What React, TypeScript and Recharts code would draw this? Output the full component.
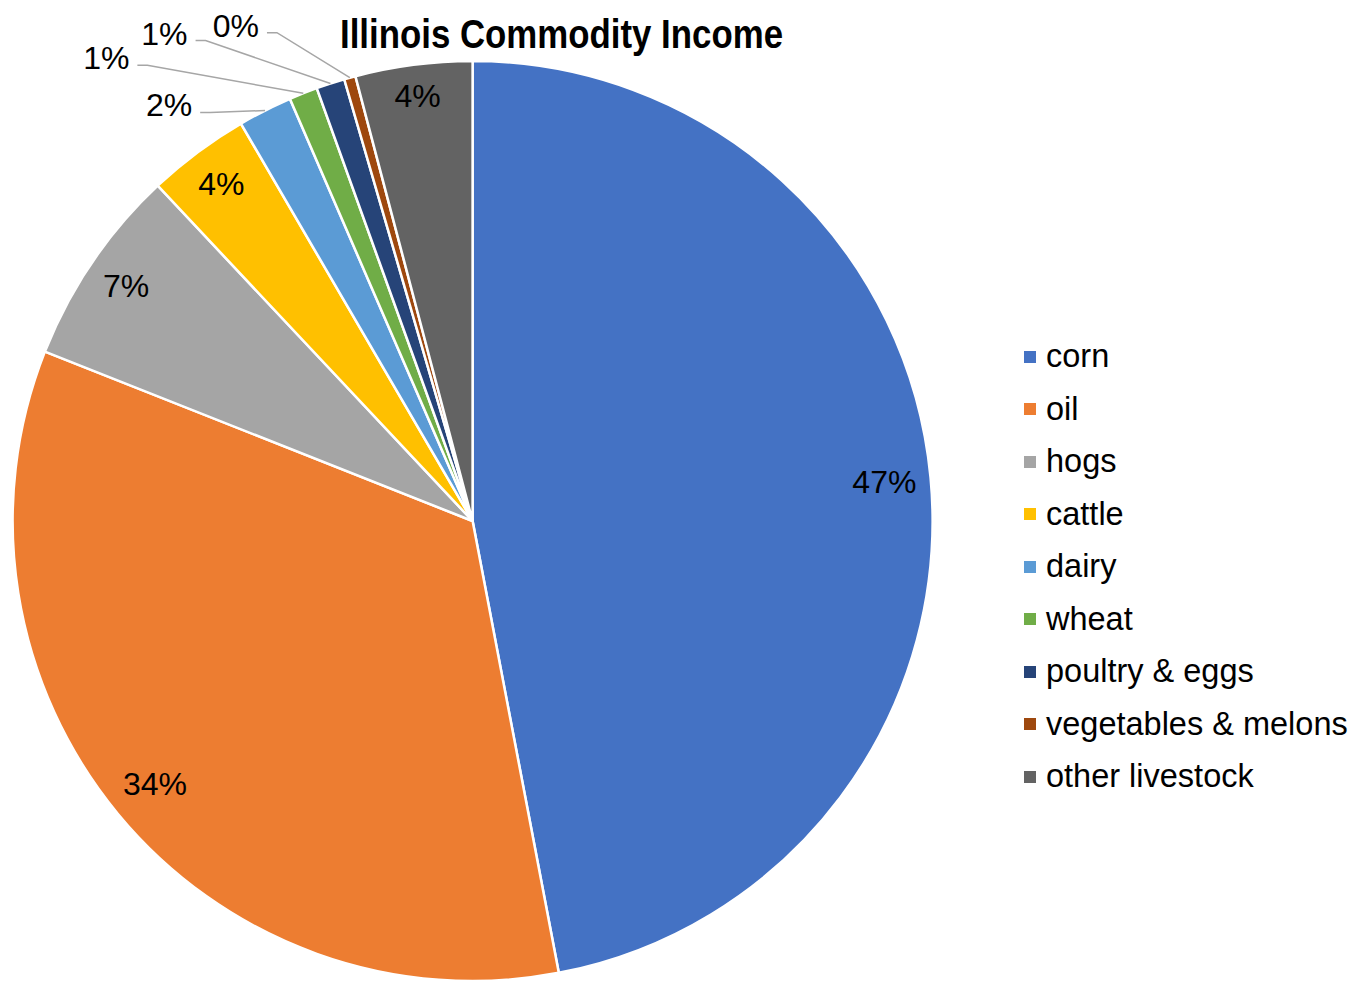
import React from "react";
import { Cell, Legend, Pie, PieChart } from "recharts";

const categories = [
  "corn",
  "oil",
  "hogs",
  "cattle",
  "dairy",
  "wheat",
  "poultry & eggs",
  "vegetables & melons",
  "other livestock",
];

// share of income, percent
const shares = [47.0, 34.0, 7.0, 3.6, 1.9, 1.0, 1.0, 0.4, 4.1];

const colors = [
  "#4472C4",
  "#ED7D31",
  "#A5A5A5",
  "#FFC000",
  "#5B9BD5",
  "#70AD47",
  "#264478",
  "#9E480E",
  "#636363",
];

const title = "Illinois Commodity Income";

const data = categories.map((name, i) => ({ name, value: shares[i] }));

const FONT = "'Liberation Sans', Arial, Helvetica, sans-serif";
const RAD = Math.PI / 180;
const LABEL_SIZE = 32;

// small slices get their label pulled outside with a leader line (offset from slice edge)
const outsideOffsets: Record<string, [number, number]> = {
  dairy: [-96, -5],
  wheat: [-197, -35],
  "poultry & eggs": [-166, -50],
  "vegetables & melons": [-114, -52],
};

const textWidth = (t: string) => {
  // rough Arial advance widths
  let w = 0;
  for (const ch of t) w += ch === "%" ? 0.889 : 0.556;
  return w * LABEL_SIZE;
};

const renderLabel = (props: any) => {
  const { cx, cy, midAngle, outerRadius, percent, name } = props;
  const text = `${Math.round(percent * 100)}%`;
  const cos = Math.cos(-midAngle * RAD);
  const sin = Math.sin(-midAngle * RAD);
  const halfW = textWidth(text) / 2;
  const off = outsideOffsets[name];
  if (off) {
    const ex = cx + outerRadius * cos;
    const ey = cy + outerRadius * sin;
    const tx = ex + off[0];
    const ty = ey + off[1];
    const sx = tx + halfW + 8;
    const sy = ty + 7;
    return (
      <g>
        <polyline
          points={`${sx},${sy} ${sx + 10},${sy} ${ex},${ey}`}
          fill="none"
          stroke="#A6A6A6"
          strokeWidth={1.5}
        />
        <text x={tx} y={ty} textAnchor="middle" dominantBaseline="central" fontSize={LABEL_SIZE} fontFamily={FONT} fill="#000">
          {text}
        </text>
      </g>
    );
  }
  // inside, as close to the rim as the text box allows
  const extent = Math.abs(cos) * halfW + Math.abs(sin) * 16;
  const r = outerRadius - 13 - extent;
  return (
    <text
      x={cx + r * cos}
      y={cy + r * sin}
      textAnchor="middle"
      dominantBaseline="central"
      fontSize={LABEL_SIZE}
      fontFamily={FONT}
      fill="#000"
    >
      {text}
    </text>
  );
};

const LegendList = () => (
  <div style={{ fontFamily: FONT, fontSize: 32.5, color: "#000" }}>
    {categories.map((c, i) => (
      <div key={c} style={{ height: 52.5, display: "flex", alignItems: "center", whiteSpace: "nowrap" }}>
        <span style={{ display: "inline-block", width: 12, height: 12, background: colors[i], marginRight: 10 }} />
        <span>{c}</span>
      </div>
    ))}
  </div>
);

export default function App() {
  return (
    <div style={{ position: "absolute", left: 0, top: 0, width: 1358, height: 981, background: "#fff" }}>
      <PieChart width={1358} height={981} margin={{ top: 0, right: 0, bottom: 0, left: 0 }}>
        <Pie
          data={data}
          dataKey="value"
          nameKey="name"
          cx={472.6}
          cy={521}
          outerRadius={460}
          startAngle={90}
          endAngle={-270}
          stroke="#fff"
          strokeWidth={2.5}
          label={renderLabel}
          labelLine={false}
          isAnimationActive={false}
        >
          {data.map((d, i) => (
            <Cell key={d.name} fill={colors[i]} />
          ))}
        </Pie>
        <Legend
          content={() => <LegendList />}
          wrapperStyle={{ position: "absolute", left: 1024, top: 330.25, width: 334 }}
        />
      </PieChart>
      <svg width={1358} height={70} style={{ position: "absolute", left: 0, top: 0, pointerEvents: "none" }}>
        <text
          x={561.5}
          y={47.5}
          textAnchor="middle"
          fontSize={40}
          fontWeight="bold"
          fontFamily={FONT}
          textLength={443}
          lengthAdjust="spacingAndGlyphs"
          fill="#000"
        >
          {title}
        </text>
      </svg>
    </div>
  );
}
